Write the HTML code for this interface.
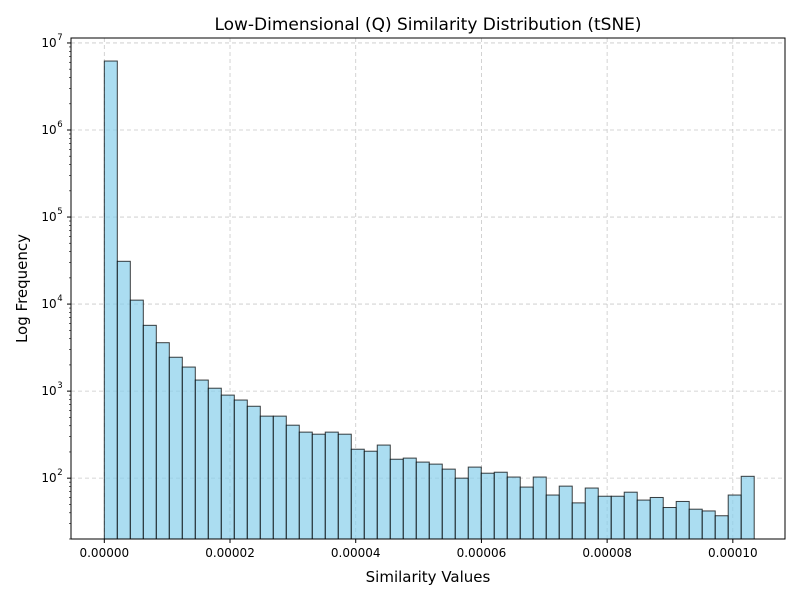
<!DOCTYPE html>
<html><head><meta charset="utf-8"><style>
body{margin:0;background:#fff;font-family:"DejaVu Sans","Liberation Sans",sans-serif}
svg{display:block}
</style></head><body>
<svg id="chart" width="800" height="600" xmlns="http://www.w3.org/2000/svg"></svg>
<script>
const counts=[6200000,31000,11100,5700,3600,2450,1890,1340,1080,900,790,670,516,516,406,338,320,338,320,215,204,240,165,170,153,145,127,100,134,114,117,103,79,103,64,81,52,77,62,62,69,56,60,46,54,44,42,37,64,105];
const binStart=0;
const binWidth=0.000002068;
const xTicks=[0,0.00002,0.00004,0.00006,0.00008,0.0001];
const xTickLabels=["0.00000","0.00002","0.00004","0.00006","0.00008","0.00010"];
const yTickExps=[2,3,4,5,6,7];

const svg=document.getElementById('chart');
const NS='http://www.w3.org/2000/svg';
const L=71,R=785,T=38,B=539;
const xMin=-0.0000053,xMax=0.0001083;
const yMinLog=Math.log10(20),yMaxLog=7.057;
function X(v){return L+(v-xMin)/(xMax-xMin)*(R-L);}
function Y(v){return B-(Math.log10(v)-yMinLog)/(yMaxLog-yMinLog)*(B-T);}
function mk(tag,attrs,parent){const e=document.createElementNS(NS,tag);for(const k in attrs)e.setAttribute(k,attrs[k]);(parent||svg).appendChild(e);return e;}

const grid=mk('g',{});


xTicks.forEach(t=>{mk('line',{x1:X(t),x2:X(t),y1:T,y2:B,stroke:'#b0b0b0','stroke-width':0.8,'stroke-dasharray':'4,3','stroke-opacity':0.7},grid);});
yTickExps.forEach(e=>{mk('line',{x1:L,x2:R,y1:Y(Math.pow(10,e)),y2:Y(Math.pow(10,e)),stroke:'#b0b0b0','stroke-width':0.8,'stroke-dasharray':'4,3','stroke-opacity':0.7},grid);});

const bars=mk('g',{});


counts.forEach((c,i)=>{
  const x0=X(binStart+i*binWidth),x1=X(binStart+(i+1)*binWidth);
  const y=Y(c);
  const r=mk('rect',{x:x0,y:y,width:x1-x0,height:B-y,fill:'#87ceeb','fill-opacity':0.7,stroke:'#000','stroke-opacity':0.75,'stroke-width':1},bars);
  
  
});

const frame=mk('rect',{x:L,y:T,width:R-L,height:B-T,fill:'none',stroke:'#000','stroke-width':1});



const xt=mk('g',{});


xTicks.forEach((t,i)=>{
  mk('line',{x1:X(t),x2:X(t),y1:B,y2:B+4,stroke:'#000'},xt);
  const tx=mk('text',{x:X(t),y:B+18,'text-anchor':'middle','font-size':12},xt);
  tx.textContent=xTickLabels[i];
});
const yt=mk('g',{});


for(let e=1;e<=7;e++){
  for(let m=1;m<10;m++){
    const v=m*Math.pow(10,e);
    if(Math.log10(v)<yMinLog||Math.log10(v)>yMaxLog)continue;
    const yy=Y(v);
    mk('line',{x1:L-(m==1?4:2),x2:L,y1:yy,y2:yy,stroke:'#000','stroke-width':m==1?1:0.6},yt);
  }
}
yTickExps.forEach(e=>{
  const yy=Y(Math.pow(10,e));
  const tx=mk('text',{x:L-22,y:yy+4,'text-anchor':'middle','font-size':12},yt);
  tx.textContent='10';
  const sp=mk('text',{x:L-11,y:yy-3,'text-anchor':'middle','font-size':8.5},yt);
  sp.textContent=String(e);
});

const title=mk('text',{x:(L+R)/2,y:30,'text-anchor':'middle','font-size':17});
title.textContent='Low-Dimensional (Q) Similarity Distribution (tSNE)';


const xl=mk('text',{x:(L+R)/2,y:582,'text-anchor':'middle','font-size':15});
xl.textContent='Similarity Values';


const yl=mk('text',{x:27,y:(T+B)/2,'text-anchor':'middle','font-size':15,transform:'rotate(-90 27 '+((T+B)/2)+')'});
yl.textContent='Log Frequency';


</script>
</body></html>
